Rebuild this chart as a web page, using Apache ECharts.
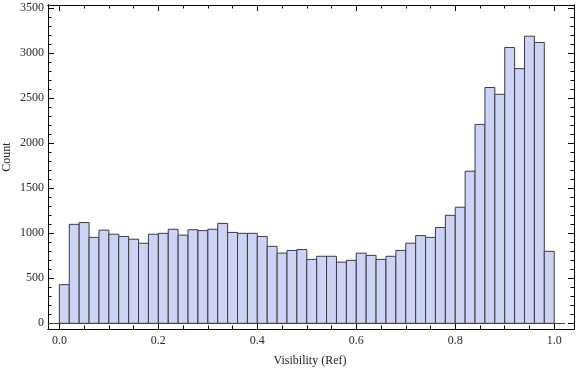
<!DOCTYPE html>
<html>
<head>
<meta charset="utf-8">
<script src="https://cdn.jsdelivr.net/npm/echarts@6/dist/echarts.min.js"></script>
<style>html,body{margin:0;padding:0;background:#fff}#c{width:576px;height:369px}</style>
</head>
<body>
<div id="c"></div>
<script>
// Histogram: 50 bins of width 0.02 over [0, 1]
const binWidth = 0.02;
const counts = [430, 1100, 1120, 955, 1035, 990, 965, 935, 890, 990,
                1000, 1045, 980, 1040, 1030, 1045, 1110, 1010, 1000, 1000,
                965, 855, 780, 810, 820, 710, 745, 745, 680, 700,
                780, 755, 710, 745, 810, 890, 975, 955, 1065, 1200,
                1290, 1690, 2210, 2620, 2545, 3065, 2830, 3190, 3120, 800];
const xMajorTicks = [0, 0.2, 0.4, 0.6, 0.8, 1.0];
const xMinorTicks = [0.05, 0.1, 0.15, 0.25, 0.3, 0.35, 0.45, 0.5, 0.55, 0.65, 0.7, 0.75, 0.85, 0.9, 0.95];
const yMajorTicks = [0, 500, 1000, 1500, 2000, 2500, 3000, 3500];
const yMinorTicks = [];
for (let v = 100; v < 3500; v += 100) if (v % 500 !== 0) yMinorTicks.push(v);
const xTitle = 'Visibility (Ref)';
const yTitle = 'Count';

const X_MIN = -0.023, X_MAX = 1.04, Y_MIN = -63, Y_MAX = 3537;
const font = 'Liberation Serif';
const data = counts.map((c, i) => [i * binWidth, (i + 1) * binWidth, c]);

function xAx(pos, ticks, len, labels) {
  return {
    type: 'value', position: pos, min: X_MIN, max: X_MAX,
    axisLine: {show: true, onZero: false, lineStyle: {color: '#000', width: 1}},
    axisTick: {show: true, inside: true, length: len, customValues: ticks, lineStyle: {color: '#000', width: 1}},
    axisLabel: labels ? {show: true, customValues: ticks, formatter: v => Number(v).toFixed(1), color: '#2a2a2a',
      fontFamily: font, fontSize: 12, margin: 6} : {show: false},
    splitLine: {show: false}
  };
}
function yAx(pos, ticks, len, labels) {
  return {
    type: 'value', position: pos, min: Y_MIN, max: Y_MAX,
    axisLine: {show: true, onZero: false, lineStyle: {color: '#000', width: 1}},
    axisTick: {show: true, inside: true, length: len, customValues: ticks, lineStyle: {color: '#000', width: 1}},
    axisLabel: labels ? {show: true, customValues: ticks, formatter: v => String(Math.round(v)), color: '#2a2a2a',
      fontFamily: font, fontSize: 12, margin: 4} : {show: false},
    splitLine: {show: false}
  };
}

const chart = echarts.init(document.getElementById('c'), null, {renderer: 'canvas'});
chart.setOption({
  animation: false,
  backgroundColor: '#fff',
  grid: {left: 48, right: 2, top: 5, bottom: 40, containLabel: false},
  xAxis: [
    xAx('bottom', xMajorTicks, 6, true),
    xAx('bottom', xMinorTicks, 3.5, false),
    xAx('top', xMajorTicks, 6, false),
    xAx('top', xMinorTicks, 3.5, false)
  ],
  yAxis: [
    yAx('left', yMajorTicks, 6, true),
    yAx('left', yMinorTicks, 3.5, false),
    yAx('right', yMajorTicks, 6, false),
    yAx('right', yMinorTicks, 3.5, false)
  ],
  graphic: [
    {type: 'text', x: 310, y: 361, style: {text: xTitle, font: '12px "Liberation Serif"', fill: '#222', textAlign: 'center', textVerticalAlign: 'middle'}},
    {type: 'text', rotation: Math.PI / 2, x: 7, y: 157, style: {text: yTitle, font: '12px "Liberation Serif"', fill: '#222', textAlign: 'center', textVerticalAlign: 'middle'}}
  ],
  series: [{
    type: 'custom',
    xAxisIndex: 0, yAxisIndex: 0,
    data: data,
    encode: {x: [0, 1], y: 2},
    renderItem: function (params, api) {
      const p0 = api.coord([api.value(0), api.value(2)]);
      const p1 = api.coord([api.value(1), 0]);
      return {
        type: 'rect',
        shape: {x: p0[0], y: p0[1], width: p1[0] - p0[0], height: p1[1] - p0[1]},
        style: {fill: '#ccd3f4', stroke: '#3c3c3c', lineWidth: 1}
      };
    },
    markLine: {
      silent: true, symbol: 'none', label: {show: false},
      lineStyle: {color: '#444', width: 1, type: 'solid'},
      data: [[{coord: [X_MIN, 0]}, {coord: [1.022, 0]}]]
    },
    z: 2
  }]
});
</script>
</body>
</html>
